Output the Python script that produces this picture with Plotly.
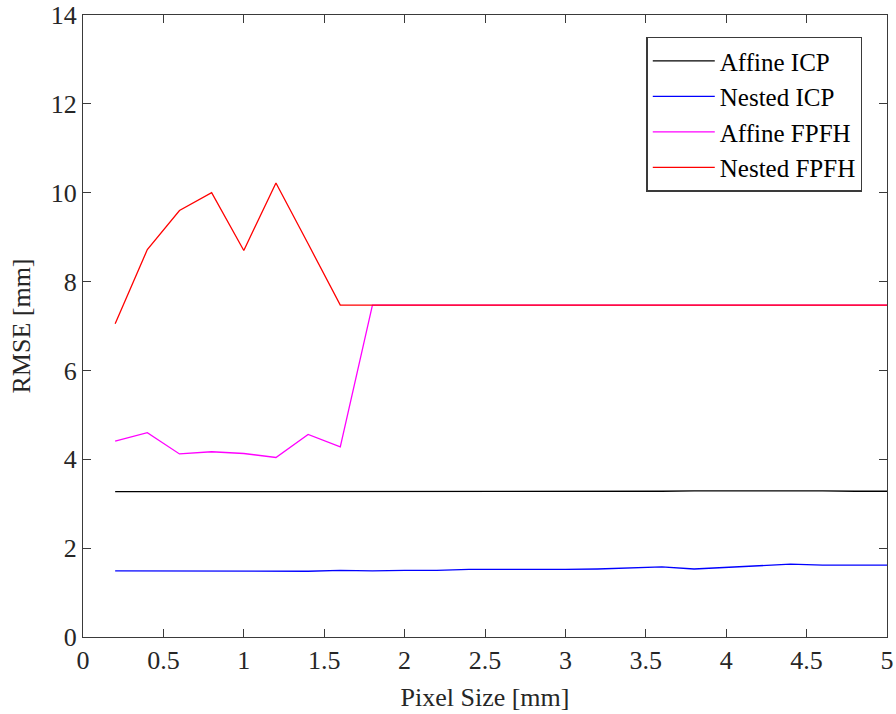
import plotly.graph_objects as go

# Pixel size sweep (mm)
pixel_size = [0.2, 0.4, 0.6, 0.8, 1.0, 1.2, 1.4, 1.6, 1.8, 2.0, 2.2, 2.4, 2.6,
              2.8, 3.0, 3.2, 3.4, 3.6, 3.8, 4.0, 4.2, 4.4, 4.6, 4.8, 5.0]

# RMSE values (mm) per method
affine_icp = [3.27, 3.27, 3.27, 3.27, 3.27, 3.27, 3.27, 3.27, 3.27, 3.27, 3.27, 3.28, 3.28,
              3.28, 3.28, 3.28, 3.28, 3.28, 3.29, 3.29, 3.29, 3.30, 3.29, 3.28, 3.28]
nested_icp = [1.49, 1.49, 1.48, 1.48, 1.48, 1.48, 1.48, 1.50, 1.49, 1.50, 1.50, 1.52, 1.52,
              1.51, 1.52, 1.53, 1.56, 1.58, 1.53, 1.57, 1.61, 1.64, 1.62, 1.62, 1.62]
affine_fpfh = [4.41, 4.60, 4.12, 4.17, 4.13, 4.04, 4.56, 4.28, 7.47, 7.47, 7.47, 7.47, 7.47,
               7.47, 7.47, 7.47, 7.47, 7.47, 7.47, 7.47, 7.47, 7.47, 7.47, 7.47, 7.47]
nested_fpfh = [7.05, 8.72, 9.60, 10.00, 8.70, 10.22, 8.85, 7.47, 7.47, 7.47, 7.47, 7.47, 7.47,
               7.47, 7.47, 7.47, 7.47, 7.47, 7.47, 7.47, 7.47, 7.47, 7.47, 7.47, 7.47]

series = [
    ("Affine ICP", affine_icp, "#000000"),
    ("Nested ICP", nested_icp, "#0000ff"),
    ("Affine FPFH", affine_fpfh, "#ff00ff"),
    ("Nested FPFH", nested_fpfh, "#ff0000"),
]

fig = go.Figure()
for name, vals, color in series:
    fig.add_trace(go.Scatter(x=pixel_size, y=vals, name=name, mode="lines",
                             line=dict(color=color, width=1.3)))

SERIF = "Liberation Serif"
axis_color = "#3a3a3a"
text_color = "#262626"
axis_common = dict(
    showgrid=False, zeroline=False, showline=True, linecolor=axis_color, linewidth=1.3,
    mirror="ticks", ticks="inside", ticklen=8, tickwidth=1.2, tickcolor=axis_color,
    automargin=False, ticklabeloverflow="allow",
    tickfont=dict(family=SERIF, size=26, color=text_color),
)

fig.update_layout(
    width=896, height=714,
    margin=dict(l=83, r=9, t=15, b=77),
    paper_bgcolor="white", plot_bgcolor="white",
    font=dict(family=SERIF, size=26, color=text_color),
    xaxis=dict(range=[0, 5], dtick=0.5, tick0=0,
               title=dict(text="Pixel Size [mm]",
                          font=dict(family=SERIF, size=26, color=text_color), standoff=13),
               **axis_common),
    yaxis=dict(range=[0, 14], dtick=2, tick0=0,
               title=dict(text="RMSE [mm]",
                          font=dict(family=SERIF, size=26, color=text_color), standoff=12),
               **axis_common),
    legend=dict(x=0.9695, y=0.965, xanchor="right", yanchor="top",
                bgcolor="white", bordercolor=axis_color, borderwidth=1.3,
                font=dict(family=SERIF, size=25, color="#000000"),
                itemwidth=62, tracegroupgap=0),
    showlegend=True,
)

fig.write_html("out.html")
